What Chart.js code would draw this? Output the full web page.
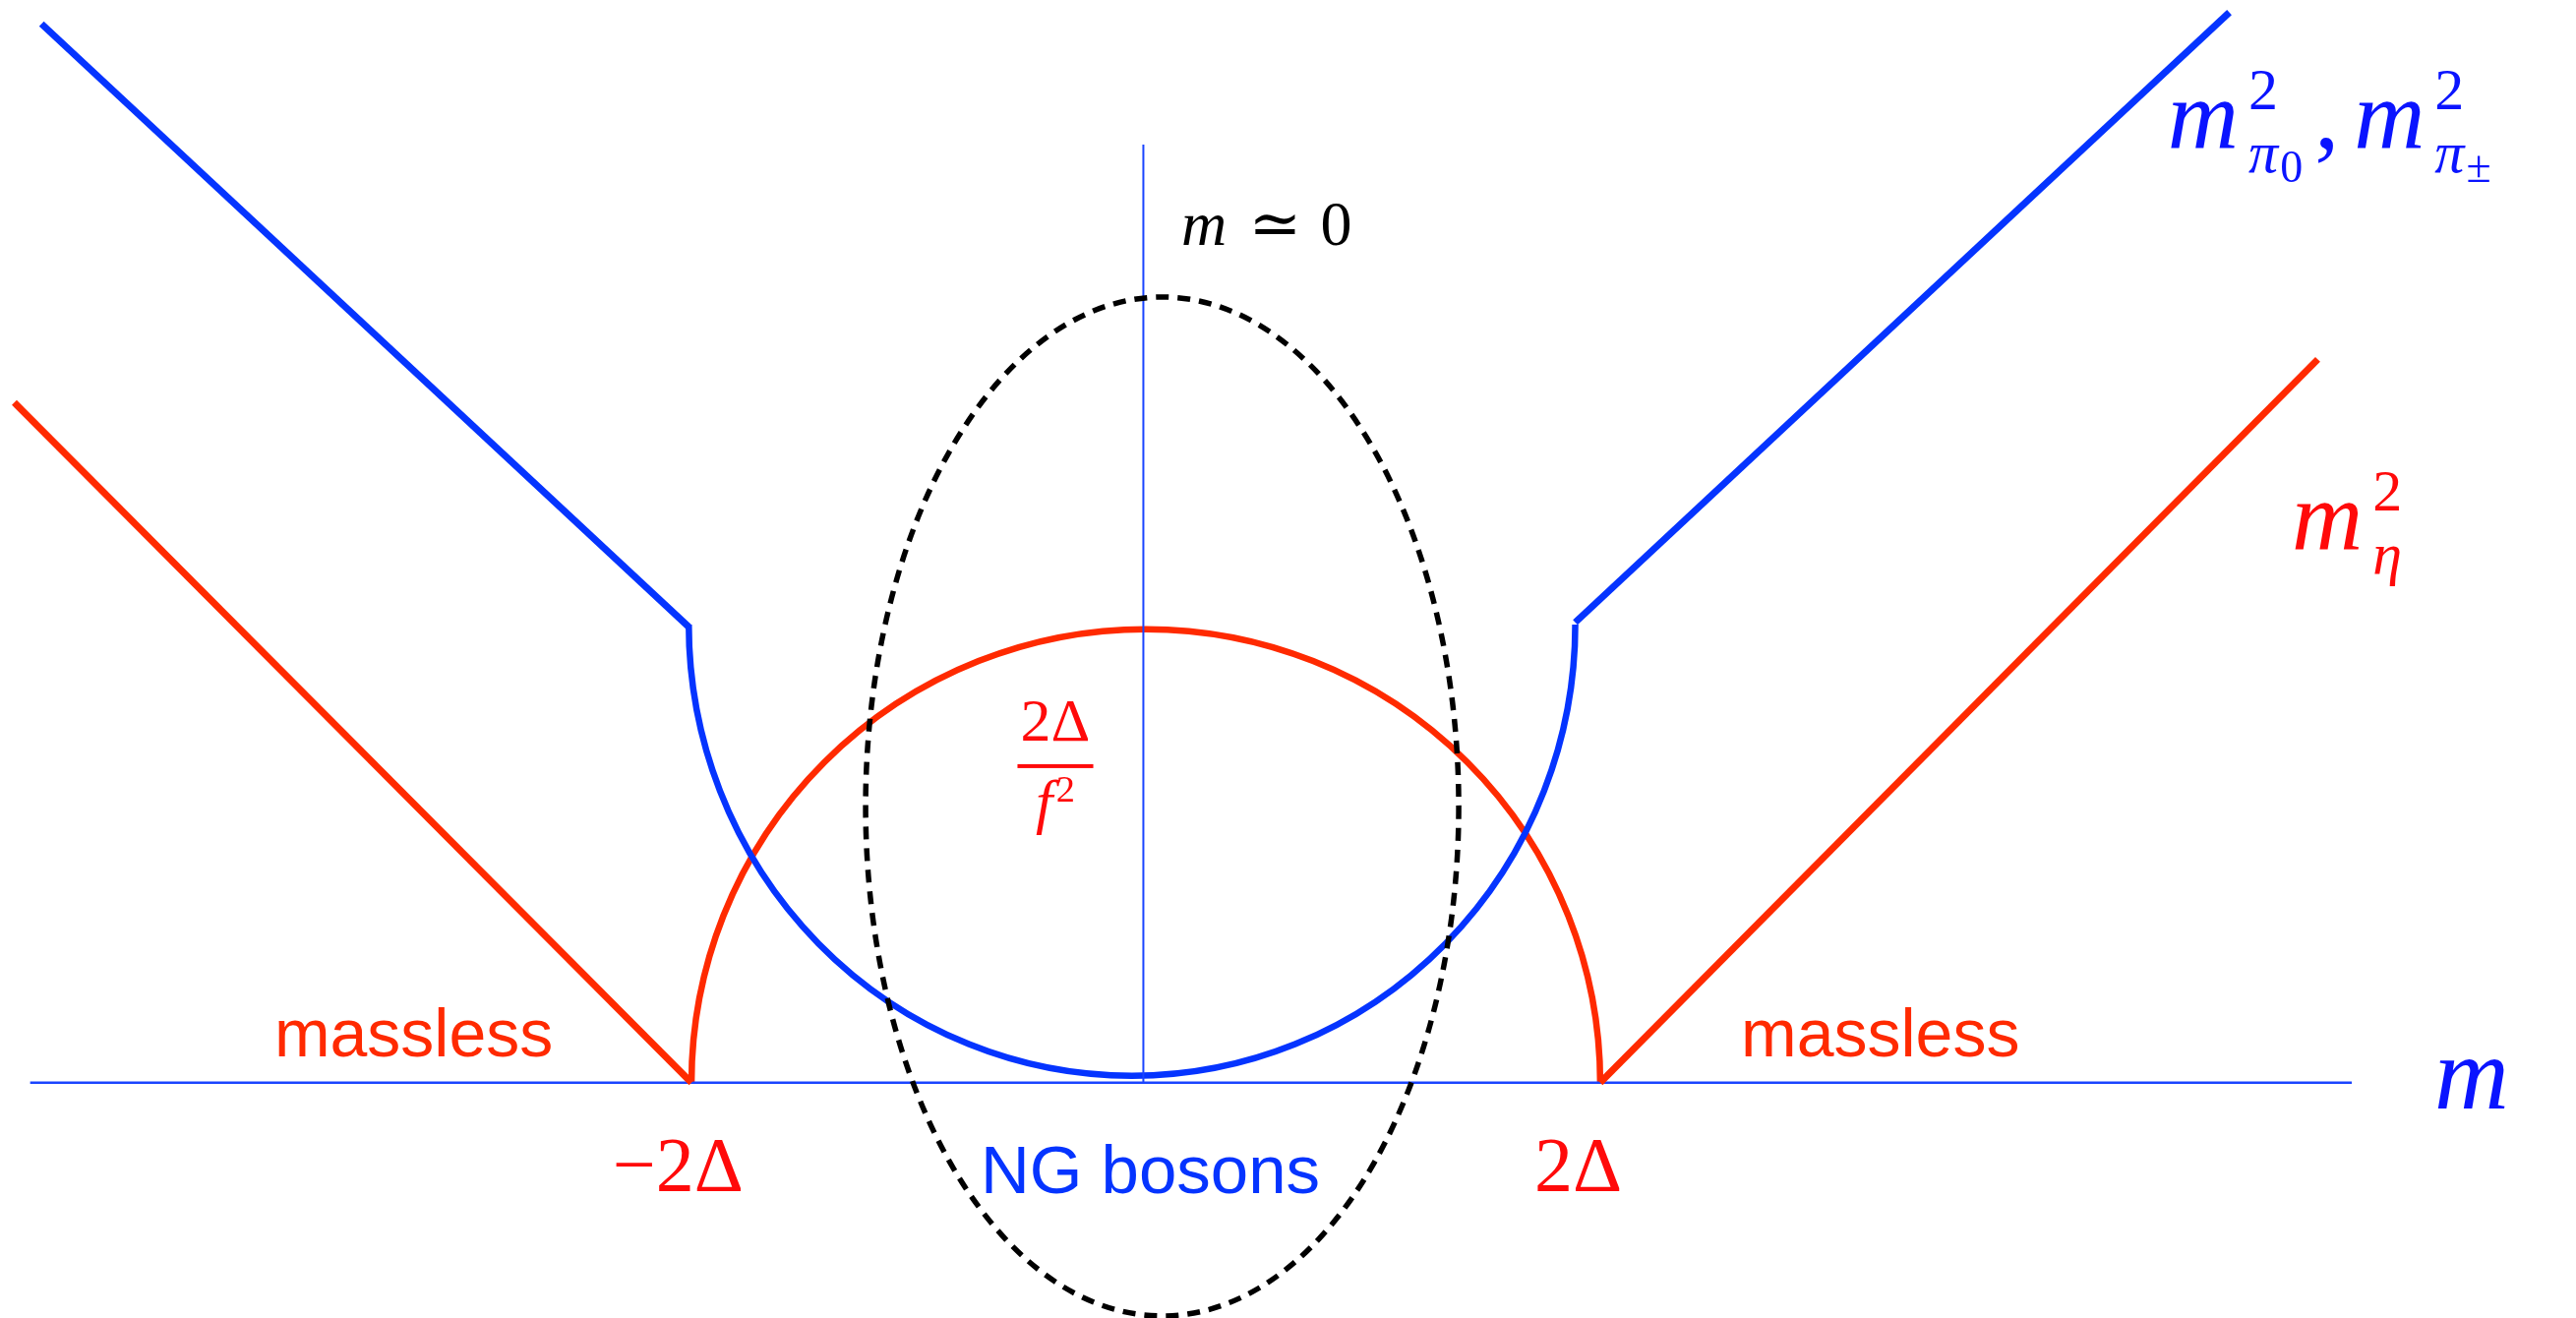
<!DOCTYPE html>
<html>
<head>
<meta charset="utf-8">
<script src="https://cdn.jsdelivr.net/npm/chart.js@4.4.1/dist/chart.umd.min.js"></script>
<style>
  html, body { margin: 0; padding: 0; background: #fff; }
  #wrap { width: 2619px; height: 1340px; }
</style>
</head>
<body>
<div id="wrap"><canvas id="spectrum" width="2619" height="1340"></canvas></div>
<script>
// everything is measured in units of Δ; origin sits where the m axis meets the vertical line
const X_RANGE = [-5.043, 6.319];
const Y_RANGE = [-1.038, 4.775];

// eta branch outside the gap
const etaLeftX = [-4.98, -1.993];
const etaLeftY = [3.0, 0];
const etaRightX = [2.015, 5.18];
const etaRightY = [0, 3.19];

// pion branches outside the gap
const piLeftX = [-4.86, -2.005];
const piLeftY = [4.67, 2.01];
const piRightX = [1.905, 4.79];
const piRightY = [2.03, 4.72];

// axes
const mAxisX = [-4.91, 5.33];
const mAxisY = [0, 0];
const zeroLineX = [0, 0];
const zeroLineY = [0, 4.137];

// arcs: centre and radii, in Δ
const etaArc = { cx: 0.011, cy: 0, rx: 2.004, ry: 2.0 };      // upper half
const piArc = { cx: -0.05, cy: 2.02, rx: 1.955, ry: 1.99 };    // lower half
const ngRegion = { cx: 0.083, cy: 1.218, rx: 1.308, ry: 2.247 }; // dashed

const BLUE = '#0534ff';
const RED = '#ff2a00';
const MATH_BLUE = '#0a14ff';
const MATH_RED = '#ff0a0a';
const MATH_FONT = '"Liberation Serif", "DejaVu Serif", serif';
const SANS_FONT = '"Liberation Sans", Arial, sans-serif';

// text pieces: s = size factor, dy/dx in em of the label size, stack = start with previous piece
const mathLabels = [
  { x: 4.518, y: 4.124, size: 100, color: MATH_BLUE, parts: [
    { t: 'm', i: 1 },
    { t: '2', s: 0.6, dy: -0.39, dx: 0.1 },
    { t: 'π', i: 1, s: 0.6, dy: 0.25, stack: 1 },
    { t: '0', s: 0.46, dy: 0.35, dx: 0.02 },
    { t: ',', dx: 0.12 },
    { t: 'm', i: 1, dx: 0.15 },
    { t: '2', s: 0.6, dy: -0.39, dx: 0.1 },
    { t: 'π', i: 1, s: 0.6, dy: 0.25, stack: 1 },
    { t: '±', s: 0.46, dy: 0.35, dx: 0.02 }
  ] },
  { x: 5.065, y: 2.356, size: 100, color: MATH_RED, parts: [
    { t: 'm', i: 1 },
    { t: '2', s: 0.6, dy: -0.39, dx: 0.1 },
    { t: 'η', i: 1, s: 0.6, dy: 0.25, stack: 1 }
  ] },
  { x: 0.167, y: 3.695, size: 64, color: '#000', parts: [
    { t: 'm', i: 1 },
    { t: '≃', dx: 0.35 },
    { t: '0', dx: 0.3 }
  ] },
  { x: -2.341, y: -0.475, size: 78, color: MATH_RED, parts: [{ t: '−2Δ' }] },
  { x: 1.725, y: -0.475, size: 78, color: MATH_RED, parts: [{ t: '2Δ' }] },
  { x: 5.694, y: -0.114, size: 105, color: MATH_BLUE, parts: [{ t: 'm', i: 1 }] }
];

const fraction = {
  x: -0.388, y: 1.396, size: 62, color: MATH_RED,
  num: [{ t: '2Δ' }],
  den: [{ t: 'f', i: 1 }, { t: '2', s: 0.62, dy: -0.34, dx: 0.06 }]
};

const textLabels = [
  { t: 'massless', x: -3.833, y: 0.116, size: 68, color: RED },
  { t: 'massless', x: 2.636, y: 0.116, size: 68, color: RED },
  { t: 'NG bosons', x: -0.718, y: -0.489, size: 69, color: BLUE }
];

function runMath(ctx, parts, size, x, y, draw) {
  let cx = x;
  let prevStart = x;
  for (const p of parts) {
    const fs = size * (p.s || 1);
    ctx.font = (p.i ? 'italic ' : '') + fs + 'px ' + MATH_FONT;
    const start = (p.stack ? prevStart : cx) + (p.dx || 0) * size;
    if (draw) ctx.fillText(p.t, start, y + (p.dy || 0) * size);
    prevStart = start;
    cx = start + ctx.measureText(p.t).width;
  }
  return cx - x;
}

function pixelBox(chart, e) {
  const xs = chart.scales.x;
  const ys = chart.scales.y;
  const px = xs.getPixelForValue(e.cx);
  const py = ys.getPixelForValue(e.cy);
  return {
    px, py,
    rx: Math.abs(xs.getPixelForValue(e.cx + e.rx) - px),
    ry: Math.abs(ys.getPixelForValue(e.cy + e.ry) - py)
  };
}

function strokeEllipse(ctx, chart, e, a0, a1, color, width, dash) {
  const b = pixelBox(chart, e);
  ctx.save();
  ctx.beginPath();
  ctx.ellipse(b.px, b.py, b.rx, b.ry, 0, a0, a1);
  ctx.strokeStyle = color;
  ctx.lineWidth = width;
  ctx.setLineDash(dash || []);
  ctx.stroke();
  ctx.restore();
}

const diagramPlugin = {
  id: 'diagram',
  beforeDatasetsDraw(chart) {
    const ctx = chart.ctx;
    strokeEllipse(ctx, chart, etaArc, Math.PI, 2 * Math.PI, RED, 6.5);
    strokeEllipse(ctx, chart, piArc, 0, Math.PI, BLUE, 6.5);
  },
  afterDatasetsDraw(chart) {
    const ctx = chart.ctx;
    const xs = chart.scales.x;
    const ys = chart.scales.y;
    strokeEllipse(ctx, chart, ngRegion, 0, 2 * Math.PI, '#000', 5.5, [13, 9]);

    ctx.save();
    ctx.textBaseline = 'alphabetic';
    ctx.textAlign = 'left';

    mathLabels.forEach((l) => {
      ctx.fillStyle = l.color;
      runMath(ctx, l.parts, l.size, xs.getPixelForValue(l.x), ys.getPixelForValue(l.y), true);
    });

    textLabels.forEach((l) => {
      ctx.fillStyle = l.color;
      ctx.font = l.size + 'px ' + SANS_FONT;
      ctx.fillText(l.t, xs.getPixelForValue(l.x), ys.getPixelForValue(l.y));
    });

    // 2Δ over f²
    const f = fraction;
    const cx = xs.getPixelForValue(f.x);
    const barY = ys.getPixelForValue(f.y);
    const wNum = runMath(ctx, f.num, f.size, 0, 0, false);
    const wDen = runMath(ctx, f.den, f.size, 0, 0, false);
    const barW = Math.max(wNum, wDen) + 0.1 * f.size;
    ctx.fillStyle = f.color;
    runMath(ctx, f.num, f.size, cx - wNum / 2, barY - 0.42 * f.size, true);
    runMath(ctx, f.den, f.size, cx - wDen / 2, barY + 0.92 * f.size, true);
    ctx.fillRect(cx - barW / 2, barY - 2, barW, 4);

    ctx.restore();
  }
};

const toPts = (xs, ys) => xs.map((x, i) => ({ x, y: ys[i] }));
const seg = (xs, ys, color, width) => ({
  data: toPts(xs, ys),
  showLine: true,
  borderColor: color,
  borderWidth: width,
  borderCapStyle: 'butt',
  pointRadius: 0,
  fill: false,
  tension: 0
});

new Chart(document.getElementById('spectrum'), {
  type: 'scatter',
  data: {
    datasets: [
      seg(etaLeftX, etaLeftY, RED, 7),
      seg(etaRightX, etaRightY, RED, 7),
      seg(piLeftX, piLeftY, BLUE, 7),
      seg(piRightX, piRightY, BLUE, 7),
      seg(mAxisX, mAxisY, '#1a44ff', 2.5),
      seg(zeroLineX, zeroLineY, '#1a44ff', 2)
    ]
  },
  options: {
    responsive: false,
    devicePixelRatio: 1,
    animation: false,
    layout: { padding: 0 },
    plugins: { legend: { display: false }, tooltip: { enabled: false } },
    scales: {
      x: { type: 'linear', min: X_RANGE[0], max: X_RANGE[1], display: false },
      y: { type: 'linear', min: Y_RANGE[0], max: Y_RANGE[1], display: false }
    }
  },
  plugins: [diagramPlugin]
});
</script>
</body>
</html>
